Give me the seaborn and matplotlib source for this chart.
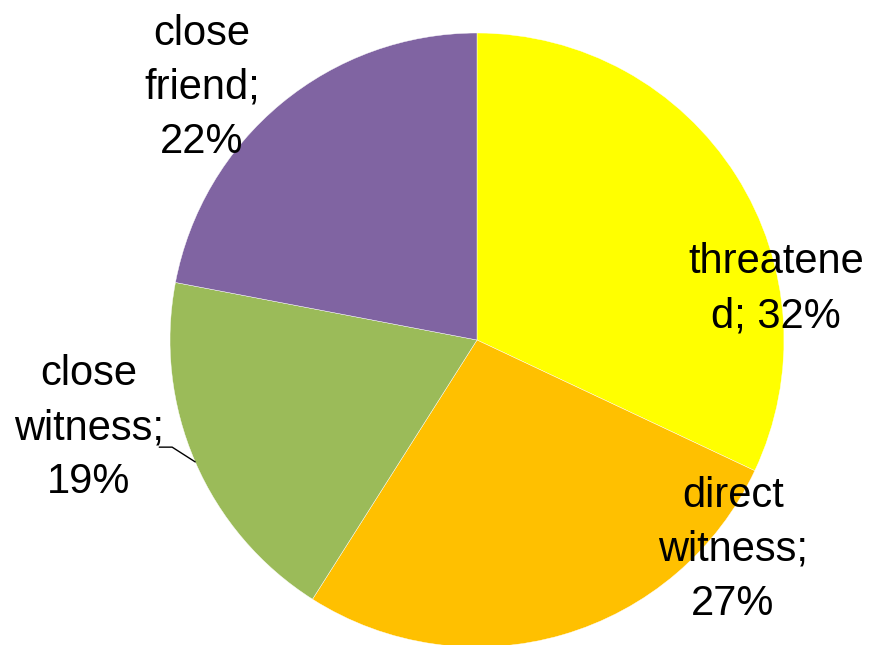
import numpy as np
import seaborn as sns
import matplotlib.pyplot as plt
from matplotlib import font_manager

# Dados
categorias = ['threatened', 'direct witness', 'close witness', 'close friend']
valores = [32, 27, 19, 22]
rotulos = ['threatene\nd; 32%', 'direct\nwitness;\n27%', 'close\nwitness;\n19%', 'close\nfriend;\n22%']
cores = ['#FFFF00', '#FFC000', '#9BBB59', '#8064A2']

sns.set_theme(style='white')
nomes = {f.name for f in font_manager.fontManager.ttflist}
fonte = 'Liberation Sans Narrow' if 'Liberation Sans Narrow' in nomes else 'Liberation Sans'
plt.rcParams['font.family'] = [fonte, 'DejaVu Sans']

fig = plt.figure(figsize=(8.81, 6.45), dpi=100, facecolor='white')
ax = fig.add_axes([0, 0, 1, 1])
ax.set_facecolor('white')

wedges, _ = ax.pie(valores, colors=cores, startangle=90, counterclock=False,
                   radius=1, center=(0, 0),
                   wedgeprops=dict(edgecolor='white', linewidth=0.3))

# posicao dos rotulos (em unidades do raio)
pos_rotulos = [(0.975, 0.166), (0.834, -0.684), (-1.265, -0.287), (-0.896, 0.821)]
for txt, (x, y) in zip(rotulos, pos_rotulos):
    ax.text(x, y, txt, ha='center', va='center', fontsize=30, color='black',
            linespacing=1.45)

# linha guia para "close witness"
w = wedges[2]
ang = np.deg2rad((w.theta1 + w.theta2) / 2)
xm, ym = np.cos(ang), np.sin(ang)
ax.plot([-1.035, -0.993, xm], [-0.349, -0.349, ym], color='black', lw=1)

ax.set_xlim(-477 / 307, (881 - 477) / 307)
ax.set_ylim(-(645 - 340) / 307, 340 / 307)
ax.set_aspect('auto')
ax.axis('off')

plt.savefig('out.png', dpi=100, facecolor='white')
plt.close()
